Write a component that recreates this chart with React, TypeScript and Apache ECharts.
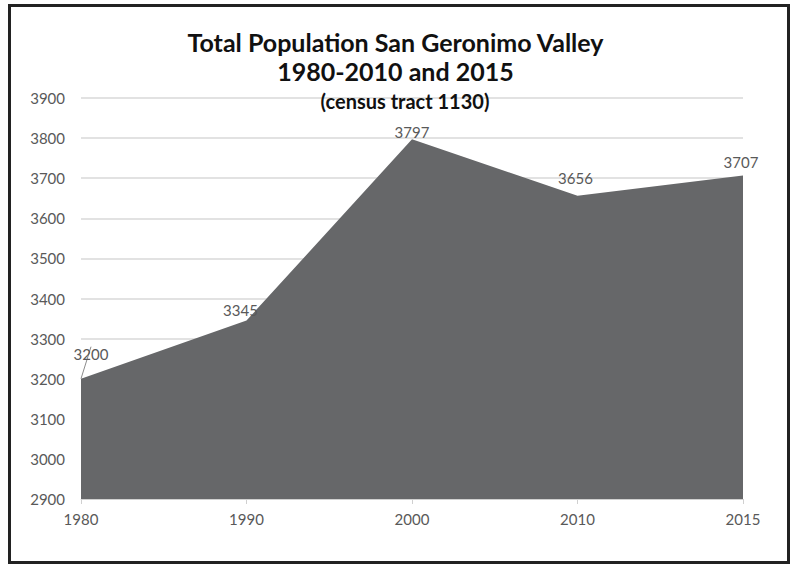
import React, { useEffect, useRef } from "react";
import * as echarts from "echarts";

const titleLines = ["Total Population San Geronimo Valley", "1980-2010 and 2015"];
const subtitle = "(census tract 1130)";
const years = ["1980", "1990", "2000", "2010", "2015"];
const population = [3200, 3345, 3797, 3656, 3707];
const labelShifts = [[10, -17], [-6, -3], [0, 0], [-2, -10], [-2, -6]];
const yMin = 2900;
const yMax = 3900;
const yStep = 100;

export default function App() {
  const ref = useRef<HTMLDivElement>(null);
  useEffect(() => {
    if (!ref.current) return;
    const chart = echarts.init(ref.current, null, { renderer: "svg" });
    const font = "Lato, 'Open Sans', sans-serif";
    chart.setOption({
      animation: false,
      backgroundColor: "#ffffff",
      title: [
        {
          text: titleLines.join("\n"),
          left: "center",
          top: 22,
          textStyle: { fontFamily: font, fontSize: 25, fontWeight: "bold", color: "#111111", lineHeight: 29 },
        },
        {
          text: subtitle,
          left: 400,
          top: 86,
          textAlign: "center",
          textStyle: { fontFamily: font, fontSize: 20, fontWeight: "bold", color: "#111111" },
        },
      ],
      grid: { left: 81, right: 48, top: 98, bottom: 67 },
      xAxis: {
        type: "category",
        data: years,
        boundaryGap: false,
        axisLine: { lineStyle: { color: "#d0d0d0", width: 1 } },
        axisTick: { show: true, alignWithLabel: true, length: 5, lineStyle: { color: "#d0d0d0" } },
        axisLabel: { color: "#595959", fontFamily: font, fontSize: 15, margin: 12 },
        splitLine: { show: false },
      },
      yAxis: {
        type: "value",
        min: yMin,
        max: yMax,
        interval: yStep,
        axisLine: { show: false },
        axisTick: { show: false },
        axisLabel: { color: "#595959", fontFamily: font, fontSize: 15, margin: 16, formatter: (v: number) => String(v) },
        splitLine: { lineStyle: { color: "#d9d9d9", width: 1.5 } },
      },
      series: [
        {
          type: "line",
          data: population.map((v, i) => ({
            value: v,
            labelLine: i === 0 ? { show: true, lineStyle: { color: "#8c8c8c", width: 1 } } : { show: false },
          })),
          showSymbol: true,
          symbol: "circle",
          symbolSize: 0,
          itemStyle: { color: "#666769", opacity: 1 },
          lineStyle: { width: 0, color: "#666769" },
          areaStyle: { color: "#666769", opacity: 1, origin: "start" },
          label: {
            show: true,
            position: "top",
            distance: 0,
            color: "#595959",
            opacity: 1,
            fontFamily: font,
            fontSize: 15,
          },
          labelLayout: (params: any) => {
            const s = labelShifts[params.dataIndex] || [0, 0];
            return { dx: s[0], dy: s[1] };
          },
          z: 3,
        },
      ],
      graphic: [
        {
          type: "rect",
          shape: { x: 9.5, y: 5.5, width: 779, height: 557 },
          style: { fill: "none", stroke: "#222222", lineWidth: 3 },
          silent: true,
          z: 10,
        },
      ],
    });
    return () => chart.dispose();
  }, []);
  return (
    <div style={{ position: "absolute", left: 0, top: 0, width: 791, height: 566, background: "#fff" }}>
      <div ref={ref} style={{ width: 791, height: 566 }} />
    </div>
  );
}
